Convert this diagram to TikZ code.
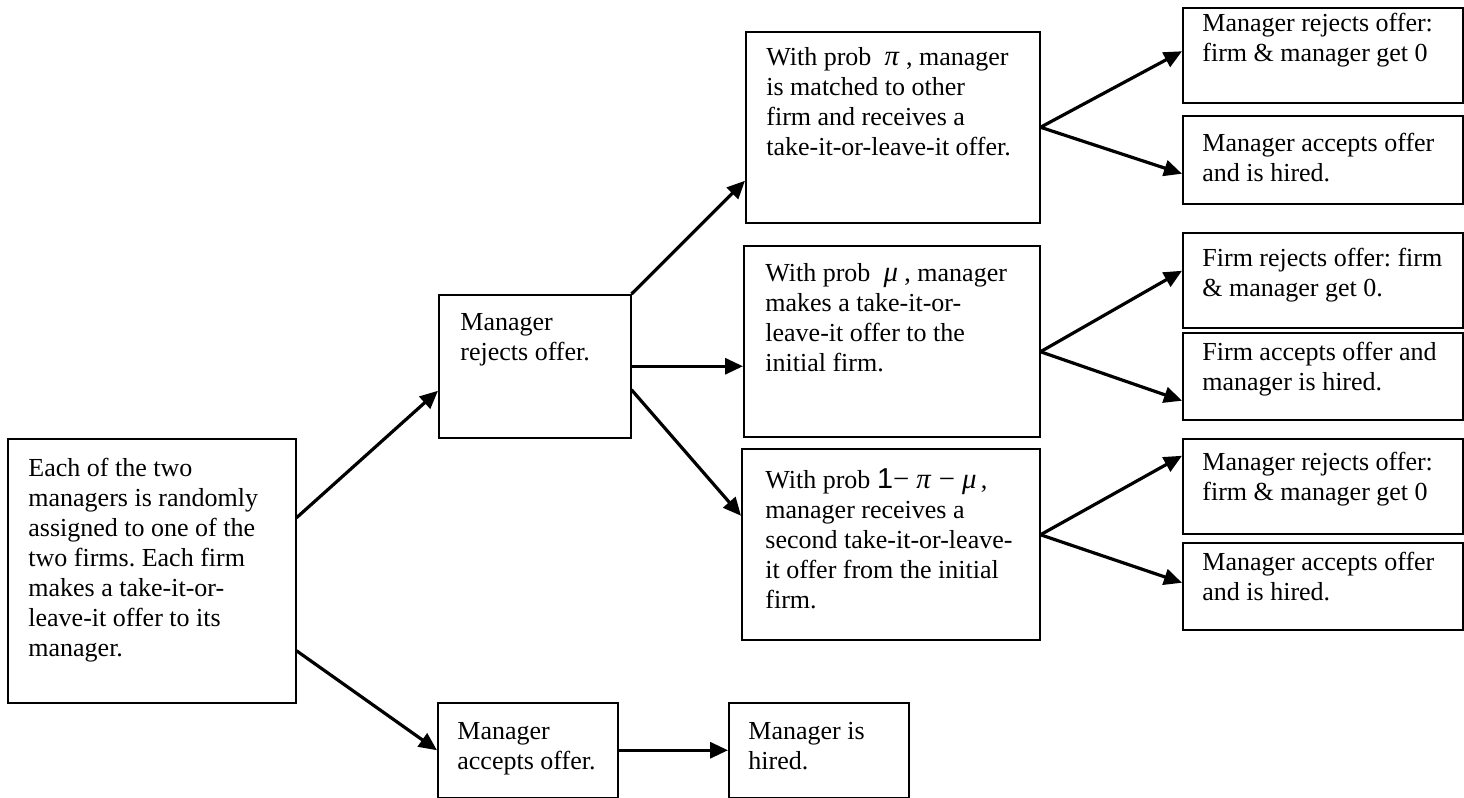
\documentclass[tikz,border=0pt]{standalone}
\usepackage{fontspec}
\setmainfont{Liberation Serif}
\setsansfont{Liberation Sans}
\usetikzlibrary{arrows.meta, positioning}
\frenchspacing

\begin{document}
\begin{tikzpicture}[x=0.5pt, y=-0.5pt,
  box/.style={draw, line width=0.75pt, anchor=north west, inner sep=0pt},
  txt/.style={anchor=north west, inner sep=0pt, align=left,
              font=\fontsize{13}{15}\selectfont},
  arr/.style={-{Triangle[length=9pt, width=8pt]}, line width=1.6pt}
]
\useasboundingbox (0,0) rectangle (1464,798);

% ---- first stage --------------------------------------------------------
\node[box, minimum width=144pt, minimum height=132pt] (A) at (7,438) {};
\node[txt] (At) at ([shift={(21,20)}]A.north west)
  {Each of the two\\ managers is randomly\\ assigned to one of the\\ two firms. Each firm\\
   makes a take-it-or-\\ leave-it offer to its\\ manager.};

\node[box, minimum width=96pt, minimum height=71.5pt] (B) at (438,294) {};
\node[txt] (Bt) at ([shift={(22,19)}]B.north west) {Manager\\ rejects offer.};

\node[box, minimum width=90pt, minimum height=47.5pt] (C) at (437,702) {};
\node[txt] (Ct) at ([shift={(20,20)}]C.north west) {Manager\\ accepts offer.};

\node[box, minimum width=90pt, minimum height=47.5pt] (D) at (728,702) {};
\node[txt] (Dt) at ([shift={(20,20)}]D.north west) {Manager is\\ hired.};

% ---- after rejection ----------------------------------------------------
\node[box, minimum width=147pt, minimum height=95.5pt] (E) at (745,31) {};
\node[txt] (Et) at ([shift={(21,16)}]E.north west)
  {With prob~~{\Large\textit{π}}~, manager\\ is matched to other\\ firm and receives a\\
   take-it-or-leave-it offer.};

\node[box, minimum width=148pt, minimum height=95.5pt] (F) at (743,245) {};
\node[txt] (Ft) at ([shift={(22,18)}]F.north west)
  {With prob~~{\Large\textit{μ}}~, manager\\ makes a take-it-or-\\ leave-it offer to the\\ initial firm.};

\node[box, minimum width=149pt, minimum height=95.5pt] (G) at (741,448) {};
\node[txt] (Gt) at ([shift={(24,20)}]G.north west)
  {With prob {\Large\textsf{1}− \textit{π} − \textit{μ}}\,,\\ manager receives a\\
   second take-it-or-leave-\\ it offer from the initial\\ firm.};

% ---- outcomes -----------------------------------------------------------
\node[box, minimum width=140pt, minimum height=47.5pt] (R1) at (1182,7) {};
\node[txt] (R1t) at ([shift={(20,6)}]R1.north west) {Manager rejects offer:\\ firm \& manager get 0};
\node[box, minimum width=140pt, minimum height=44pt] (R2) at (1182,115) {};
\node[txt] (R2t) at ([shift={(20,18)}]R2.north west) {Manager accepts offer\\ and is hired.};

\node[box, minimum width=140pt, minimum height=47.5pt] (R3) at (1182,232) {};
\node[txt] (R3t) at ([shift={(20,16)}]R3.north west) {Firm rejects offer: firm\\ \& manager get 0.};
\node[box, minimum width=140pt, minimum height=43.5pt] (R4) at (1182,332) {};
\node[txt] (R4t) at ([shift={(20,10)}]R4.north west) {Firm accepts offer and\\ manager is hired.};

\node[box, minimum width=140pt, minimum height=47.5pt] (R5) at (1182,438) {};
\node[txt] (R5t) at ([shift={(20,14)}]R5.north west) {Manager rejects offer:\\ firm \& manager get 0};
\node[box, minimum width=140pt, minimum height=43.5pt] (R6) at (1182,542) {};
\node[txt] (R6t) at ([shift={(20,10)}]R6.north west) {Manager accepts offer\\ and is hired.};

% ---- arrows -------------------------------------------------------------
\draw[arr] ([yshift=26.5pt]A.east) -- ([yshift=-12.25pt]B.west);
\draw[arr] ([yshift=-40pt]A.east) -- (C.west);
\draw[arr] (C.east) -- (D.west);

\draw[arr] (B.north east) -- ([yshift=-26.75pt]E.west);
\draw[arr] (B.east) -- (B.east -| F.west);
\draw[arr] ([yshift=-11.75pt]B.east) -- ([yshift=14.25pt]G.west);

\draw[arr] (E.east) -- ([yshift=2pt]R1.west);
\draw[arr] (E.east) -- ([yshift=-7pt]R2.west);
\draw[arr] ([yshift=-5.25pt]F.east) -- ([yshift=4.75pt]R3.west);
\draw[arr] ([yshift=-5.25pt]F.east) -- ([yshift=-12.25pt]R4.west);
\draw[arr] ([yshift=4.75pt]G.east) -- ([yshift=15.25pt]R5.west);
\draw[arr] ([yshift=4.75pt]G.east) -- ([yshift=1.75pt]R6.west);
\end{tikzpicture}
\end{document}
